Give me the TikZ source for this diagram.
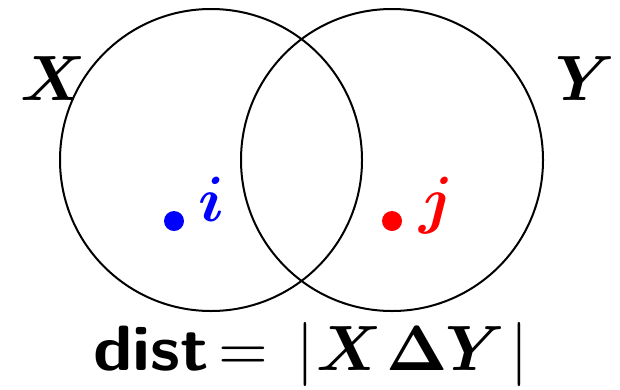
\documentclass[tikz,border=0pt]{standalone}
\usepackage[no-math]{fontspec}
\usepackage{graphicx}
\usepackage{amsmath,bm}
\newcommand{\myscaled}[1]{\scalebox{6.4}{#1}}
\tikzset{
  setcircle/.style={draw=black, line width=2pt},
  lbl/.style={anchor=base west, inner sep=0pt},
  piece/.style={anchor=base, inner sep=0pt},
  elem/.style={circle, inner sep=0pt, minimum size=20pt}
}
\begin{document}
\begin{tikzpicture}[x=1pt,y=-1pt]
\useasboundingbox (0,0) rectangle (620,389);
\node[setcircle, circle, minimum size=302pt, inner sep=0pt] (cx) at (211,160) {};
\node[setcircle, circle, minimum size=302pt, inner sep=0pt] (cy) at (392,160) {};
\node[lbl] (lx) at (20,100) {\myscaled{$\bm{X}$}};
\node[lbl] (ly) at (555,100) {\myscaled{$\bm{Y}$}};
\node[elem, fill=blue] (di) at (174,221) {};
\node[elem, fill=red] (dj) at (392,221) {};
\node[lbl, text=blue] (ti) at (198,221) {\myscaled{$\bm{i}$}};
\node[lbl, text=red] (tj) at (419,221) {\myscaled{$\bm{j}$}};
% formula: dist= |X Delta Y|
\node[lbl] (fd) at (93,370) {\scalebox{7.05}[6.4]{\sffamily\bfseries dist}};
\node[piece] (feq) at (243,370) {\myscaled{$=$}};
\node[piece] (fb1) at (305,370) {\myscaled{$|$}};
\node[piece] (fx) at (349,370) {\myscaled{$\bm{X}$}};
\node[piece] (fdel) at (417,370) {\myscaled{$\mathbf{\Delta}$}};
\node[piece] (fy) at (475,370) {\myscaled{$\bm{Y}$}};
\node[piece] (fb2) at (519,370) {\myscaled{$|$}};
\end{tikzpicture}
\end{document}
